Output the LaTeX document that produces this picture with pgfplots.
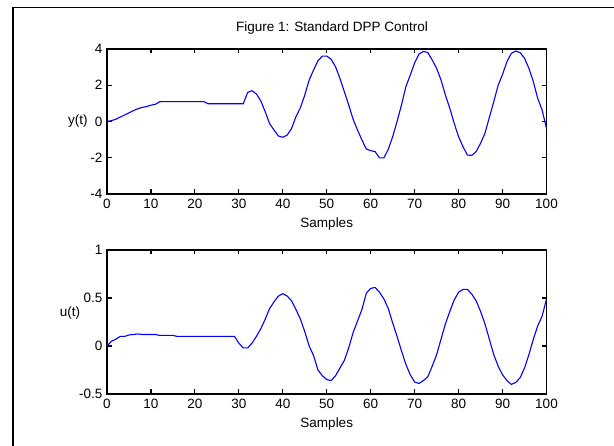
\documentclass[border=0pt]{standalone}
\usepackage{fontspec}
\setmainfont{Liberation Sans}
\usepackage{pgfplots}
\pgfplotsset{compat=1.18}

\newcommand{\mfont}{\fontsize{13.5}{15.5}\selectfont}

\pgfplotsset{
  mlab/.style={
    scale only axis,
    width=439.5pt,
    xmin=0, xmax=100,
    xtick={0,10,...,100},
    axis line style={line width=1.3pt},
    every tick/.style={black, line width=1.1pt},
    tick align=inside,
    major tick length=4.5pt,
    xtick pos=both, ytick pos=both,
    tick label style={font=\mfont},
    xticklabel style={yshift=-2pt},
    yticklabel style={xshift=-1pt},
    label style={font=\mfont},
    xlabel={Samples},
    xlabel style={at={(rel axis cs:0.5,0)}, anchor=base, yshift=-33.5pt},
    /pgf/number format/assume math mode=true,
    clip=false,
  },
  sig/.style={blue, line width=1.1pt, mark=none},
}

\begin{document}
\begin{tikzpicture}
  \useasboundingbox (0,0) rectangle (614pt,446pt);
  \draw[line width=1.6pt] (13pt,-2pt) -- (13pt,438.3pt) -- (616pt,438.3pt);

  % y(t)
  \begin{axis}[mlab,
      at={(107pt,252pt)}, anchor=south west,
      height=145pt,
      ymin=-4, ymax=4, ytick={-4,-2,0,2,4},
      ylabel={y(t)},
      ylabel style={rotate=-90, at={(rel axis cs:-0.066,0.5)}, anchor=center},
      title={Figure 1: Standard DPP Control},
      title style={font=\mfont, at={(rel axis cs:0.512,1)}, anchor=base, yshift=11.3pt},
    ]
    \addplot[sig] coordinates {
      (0,0) (1,0.05) (2,0.12) (3,0.24) (4,0.36) (5,0.48) (6,0.6) (7,0.7)
      (8,0.78) (9,0.82) (10,0.9) (11,0.95) (12,1.09) (13,1.1) (14,1.1)
      (15,1.1) (16,1.1) (17,1.1) (18,1.1) (19,1.1) (20,1.1) (21,1.1)
      (22,1.1) (23,0.98) (24,0.98) (25,0.98) (26,0.98) (27,0.98) (28,0.98)
      (29,0.98) (30,0.98) (31,0.98) (32,1.6) (33,1.7) (34,1.52) (35,1.13)
      (36,0.54) (37,-0.12) (38,-0.47) (39,-0.8) (40,-0.87) (41,-0.75)
      (42,-0.38) (43,0.27) (44,0.76) (45,1.46) (46,2.29) (47,2.84)
      (48,3.35) (49,3.61) (50,3.61) (51,3.43) (52,3.02) (53,2.38)
      (54,1.65) (55,0.91) (56,0.12) (57,-0.47) (58,-1.02) (59,-1.52)
      (60,-1.61) (61,-1.66) (62,-2.01) (63,-2.01) (64,-1.53) (65,-0.84)
      (66,0) (67,0.91) (68,1.92) (69,2.56) (70,3.24) (71,3.72) (72,3.87)
      (73,3.8) (74,3.39) (75,2.93) (76,2.29) (77,1.46) (78,0.73)
      (79,-0.1) (80,-0.84) (81,-1.39) (82,-1.85) (83,-1.87) (84,-1.66)
      (85,-1.2) (86,-0.65) (87,0.23) (88,1.09) (89,2.0) (90,2.6) (91,3.3)
      (92,3.76) (93,3.89) (94,3.8) (95,3.49) (96,2.93) (97,2.2) (98,1.28)
      (99,0.63) (100,-0.38)
    };
  \end{axis}

  % u(t)
  \begin{axis}[mlab,
      at={(107pt,52pt)}, anchor=south west,
      height=144pt,
      ymin=-0.5, ymax=1, ytick={-0.5,0,0.5,1},
      ylabel={u(t)},
      ylabel style={rotate=-90, at={(rel axis cs:-0.084,0.5625)}, anchor=center},
    ]
    \addplot[sig] coordinates {
      (0,0) (1,0.05) (2,0.07) (3,0.1) (4,0.1) (5,0.115) (6,0.12) (7,0.125)
      (8,0.12) (9,0.12) (10,0.12) (11,0.12) (12,0.11) (13,0.11) (14,0.11)
      (15,0.11) (16,0.1) (17,0.1) (18,0.1) (19,0.1) (20,0.1) (21,0.1)
      (22,0.1) (23,0.1) (24,0.1) (25,0.1) (26,0.1) (27,0.1) (28,0.1)
      (29,0.1) (30,0.03) (31,-0.02) (32,-0.02) (33,0.03) (34,0.1)
      (35,0.18) (36,0.28) (37,0.39) (38,0.46) (39,0.52) (40,0.545)
      (41,0.52) (42,0.47) (43,0.38) (44,0.28) (45,0.15) (46,0) (47,-0.1)
      (48,-0.25) (49,-0.31) (50,-0.35) (51,-0.36) (52,-0.31) (53,-0.23)
      (54,-0.15) (55,-0.02) (56,0.14) (57,0.26) (58,0.38) (59,0.55)
      (60,0.6) (61,0.61) (62,0.56) (63,0.49) (64,0.39) (65,0.24) (66,0.1)
      (67,-0.05) (68,-0.19) (69,-0.3) (70,-0.375) (71,-0.39) (72,-0.36)
      (73,-0.32) (74,-0.21) (75,-0.09) (76,0.07) (77,0.23) (78,0.36)
      (79,0.48) (80,0.56) (81,0.59) (82,0.59) (83,0.54) (84,0.47)
      (85,0.36) (86,0.23) (87,0.07) (88,-0.09) (89,-0.21) (90,-0.3)
      (91,-0.36) (92,-0.4) (93,-0.38) (94,-0.33) (95,-0.23) (96,-0.09)
      (97,0.07) (98,0.21) (99,0.31) (100,0.49)
    };
  \end{axis}
\end{tikzpicture}
\end{document}
